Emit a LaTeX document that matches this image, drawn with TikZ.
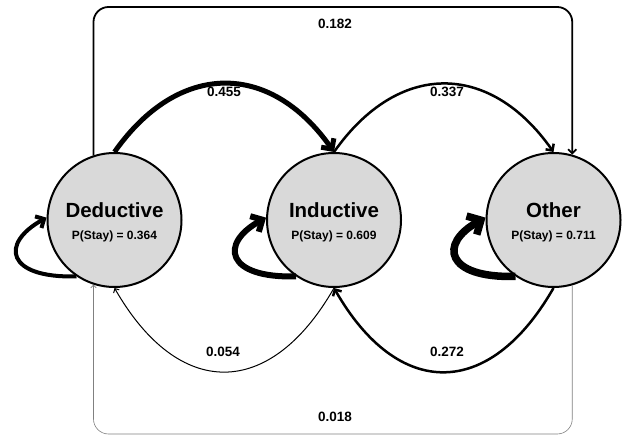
\documentclass[tikz,border=0pt]{standalone}
\usepackage{fontspec}
\setmainfont{Liberation Sans}
\usetikzlibrary{arrows.meta}
\begin{document}
\begin{tikzpicture}[x=1pt,y=1pt,>={Straight Barb[angle=90:3pt 1.6]},
    state/.style={circle,draw,line width=2pt,fill=gray!30,minimum size=134pt,
      inner sep=0pt,align=center},
    title/.style={font=\fontsize{20.5}{22}\selectfont\bfseries},
    stay/.style={font=\fontsize{12}{14}\selectfont\bfseries},
    lbl/.style={font=\fontsize{13.5}{15}\selectfont\bfseries}]
  \useasboundingbox (0,0) rectangle (623,436);
  \draw
    (114.5,216) node[state] (ded){}
    (334,216) node[state] (ind){}
    (553.5,216) node[state] (oth){};
  \node[title] (dedname) at (114.5,226) {Deductive};
  \node[stay] (dedstay) at (114.5,200) {P(Stay) = 0.364};
  \node[title] (indname) at (334,226) {Inductive};
  \node[stay] (indstay) at (334,200) {P(Stay) = 0.609};
  \node[title] (othname) at (553.5,226) {Other};
  \node[stay] (othstay) at (553.5,200) {P(Stay) = 0.711};
  \coordinate (topy) at (0,429);
  \coordinate (boty) at (0,2);
  \begin{scope}[->]
    \draw[line width=5pt] (ded.north) .. controls +(64,91) and +(-64,91) .. (ind.north);
    \draw[line width=2.5pt] (ind.north) .. controls +(64,91) and +(-64,91) .. (oth.north);
    \draw[line width=1.8pt,rounded corners=15pt] (ded.108) |- (oth.74 |- topy) -- (oth.74);
    \draw[line width=1pt] (ind.south) .. controls +(-64,-112) and +(64,-112) .. (ded.south);
    \draw[line width=2.5pt] (oth.south) .. controls +(-64,-112) and +(64,-112) .. (ind.south);
    \draw[line width=0.6pt,gray,rounded corners=15pt] (oth.286) |- (ded.252 |- boty) -- (ded.252);
    \draw[line width=4pt] (ded.236) .. controls +(-70,-2) and +(-47,-26) .. (ded.178);
    \draw[line width=6pt] (ind.236) .. controls +(-70,-2) and +(-47,-26) .. (ind.178);
    \draw[line width=7.5pt] (oth.236) .. controls +(-70,-2) and +(-47,-26) .. (oth.178);
  \end{scope}
  \node[lbl] (p182) at (335,412) {0.182};
  \node[lbl] (p455) at (224,344) {0.455};
  \node[lbl] (p337) at (447,344) {0.337};
  \node[lbl] (p054) at (223,84) {0.054};
  \node[lbl] (p272) at (447,84) {0.272};
  \node[lbl] (p018) at (335,19) {0.018};
\end{tikzpicture}
\end{document}
